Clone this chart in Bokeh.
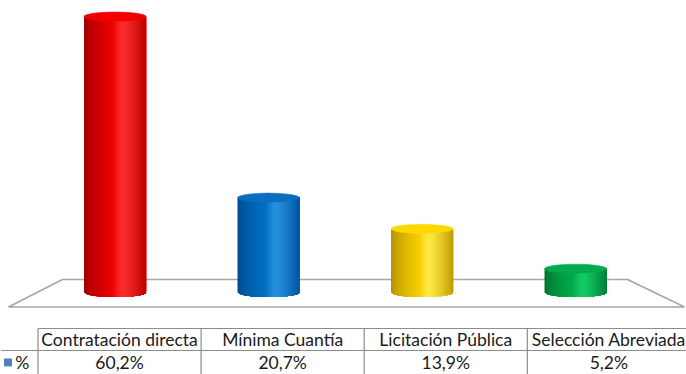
from bokeh.plotting import figure
from bokeh.models import Range1d
from bokeh.embed import file_html
from bokeh.resources import INLINE
from bokeh.core.properties import value
import numpy as np

# ---- data ----
categories = ["Contratación directa", "Mínima Cuantía", "Licitación Pública", "Selección Abreviada"]
values = [60.2, 20.7, 13.9, 5.2]
series_name = "%"

# ---- styles ----
side_colors = [
    # left dark, mid, highlight, right dark
    ((150, 0, 0), (235, 0, 0), (255, 45, 45), (185, 0, 0)),
    ((0, 70, 140), (0, 112, 192), (40, 145, 225), (0, 85, 160)),
    ((170, 140, 0), (245, 205, 0), (255, 235, 70), (190, 155, 0)),
    ((0, 110, 45), (0, 170, 75), (20, 205, 100), (0, 125, 55)),
]
top_colors = ["#F20000", "#0A6EC0", "#FFD800", "#00AA4E"]
FONT = "Lato"
FS = "17.5px"

W, H = 686, 374
x0r, x1r = -0.746, 3.723
y0r, y1r = -17.88, 63.69

p = figure(width=W, height=H, output_backend="svg", toolbar_location=None,
           x_range=Range1d(x0r, x1r), y_range=Range1d(y0r, y1r),
           min_border=0, outline_line_color=None, background_fill_color="white")
p.extra_x_ranges = {"tbl": Range1d(-0.2299, 3.976)}
p.axis.visible = False
p.xgrid.visible = False
p.ygrid.visible = False

n = len(values)
xs = np.arange(n, dtype=float)
half_w = 0.202          # cylinder half width (x units)
ell_b = 0.98            # ellipse half height (y units)

# ---- floor ----
p.patch([-0.342, 3.339, 3.71, -0.694], [2.835, 2.835, -3.16, -3.16],
        fill_color="white", line_color="#A6A6A6", line_width=1.6)

# ---- cylinders ----
def lerp(a, b, t):
    return tuple(int(round(a[k] + (b[k] - a[k]) * t)) for k in range(3))

def shade(cs, t):
    l, m, h, r = cs
    if t < 0.45:
        c = lerp(l, m, (t / 0.45) ** 0.6)
    elif t < 0.6:
        c = lerp(m, h, (t - 0.45) / 0.15)
    else:
        c = lerp(h, r, ((t - 0.6) / 0.4) ** 1.3)
    return "#%02x%02x%02x" % c

NS = 40
px, py, pc = [], [], []
for i in range(n):
    xc, v = xs[i], values[i]
    right = xc + half_w
    edges = np.linspace(xc - half_w, right, NS + 1)
    for k in range(NS):
        a = edges[k]
        sub = np.linspace(a, right, 24)
        bx = list(sub[::-1])
        by = [-ell_b * np.sqrt(max(0.0, 1 - ((x - xc) / half_w) ** 2)) for x in bx]
        px.append([a, right] + bx)
        py.append([v, v] + by)
        pc.append(shade(side_colors[i], (k + 0.5) / NS))
p.patches(px, py, fill_color=pc, line_color=None)
p.ellipse(x=xs, y=values, width=2 * half_w, height=2 * ell_b,
          fill_color=top_colors, line_color=top_colors, line_width=0.5)

# ---- data table ----
y_top, y_mid, y_bot = -7.85, -12.65, -18.5
ncol = len(categories)
grid_c = "#8C8C8C"
p.segment(x0=[0, -0.2299], y0=[y_top, y_mid], x1=[ncol + 0.1, ncol + 0.1], y1=[y_top, y_mid],
          x_range_name="tbl", line_color=grid_c, line_width=1.2)
p.segment(x0=list(range(ncol + 1)), y0=[y_top] * (ncol + 1),
          x1=list(range(ncol + 1)), y1=[y_bot] * (ncol + 1),
          x_range_name="tbl", line_color=grid_c, line_width=1.2)
p.text(x=[i + 0.5 for i in range(ncol)], y=[-10.3] * ncol, text=categories,
       x_range_name="tbl", text_align="center", text_baseline="middle",
       text_font=value(FONT), text_font_size=FS, text_color="#1a1a1a")
labels = [("%.1f" % v).replace(".", ",") + "%" for v in values]
p.text(x=[i + 0.5 for i in range(ncol)], y=[-15.35] * ncol, text=labels,
       x_range_name="tbl", text_align="center", text_baseline="middle",
       text_font=value(FONT), text_font_size=FS, text_color="#1a1a1a")
p.scatter(x=[-0.184], y=[-15.25], marker="square", size=7, x_range_name="tbl",
          fill_color="#4F81BD", line_color="#4F81BD")
p.text(x=[-0.14], y=[-15.35], text=[series_name], x_range_name="tbl",
       text_align="left", text_baseline="middle",
       text_font=value(FONT), text_font_size=FS, text_color="#1a1a1a")

open("out.html", "w").write(file_html(p, INLINE))
